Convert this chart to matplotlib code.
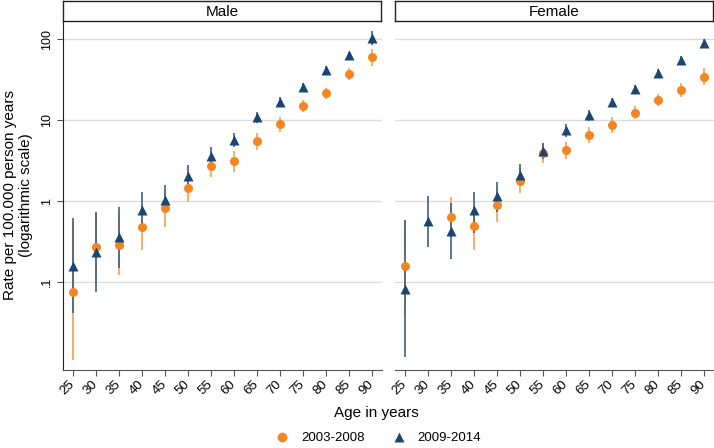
import matplotlib.pyplot as plt
from matplotlib.lines import Line2D

plt.rcParams['font.family'] = ['Liberation Sans', 'DejaVu Sans']

ages = [25, 30, 35, 40, 45, 50, 55, 60, 65, 70, 75, 80, 85, 90]

# Male, 2003-2008
male_a = [0.076, 0.27, 0.286, 0.48, 0.81, 1.43, 2.70, 3.12, 5.5, 8.9, 14.9, 21.3, 37.0, 59.4]
male_a_lo = [0.011, 0.10, 0.122, 0.25, 0.48, 0.98, 2.0, 2.3, 4.3, 7.2, 12.4, 18.0, 31.0, 46.0]
male_a_hi = [0.55, 0.72, 0.70, 0.90, 1.34, 1.99, 3.6, 4.1, 7.0, 11.0, 17.8, 25.0, 44.0, 75.0]
# Male, 2009-2014
male_b = [0.158, 0.236, 0.363, 0.77, 1.03, 2.03, 3.59, 5.66, 10.8, 16.8, 25.8, 41.5, 63.1, 104.0]
male_b_lo = [0.041, 0.076, 0.148, 0.45, 0.71, 1.50, 2.9, 4.6, 9.3, 14.8, 23.0, 37.5, 57.0, 84.0]
male_b_hi = [0.62, 0.73, 0.84, 1.30, 1.58, 2.78, 4.7, 6.9, 12.4, 19.0, 29.0, 46.0, 70.0, 125.0]

# Female, 2003-2008 (no estimate at 30)
fem_ages_a = [25, 35, 40, 45, 50, 55, 60, 65, 70, 75, 80, 85, 90]
fem_a = [0.158, 0.63, 0.49, 0.90, 1.78, 3.88, 4.26, 6.58, 8.6, 12.3, 17.7, 23.4, 34.2]
fem_a_lo = [0.039, 0.36, 0.25, 0.55, 1.24, 2.92, 3.27, 5.25, 7.0, 10.2, 14.9, 19.4, 27.0]
fem_a_hi = [0.58, 1.11, 0.85, 1.48, 2.53, 5.15, 5.41, 8.26, 10.8, 14.9, 20.9, 28.4, 43.8]
# Female, 2009-2014
fem_b = [0.083, 0.57, 0.43, 0.77, 1.15, 2.09, 4.17, 7.53, 11.5, 16.5, 23.9, 38.4, 55.0, 89.9]
fem_b_lo = [0.012, 0.27, 0.19, 0.40, 0.74, 1.58, 3.27, 6.22, 9.8, 14.4, 20.8, 34.2, 48.7, 79.0]
fem_b_hi = [0.58, 1.15, 0.95, 1.30, 1.73, 2.86, 5.15, 8.92, 13.3, 18.6, 27.0, 43.0, 61.5, 101.0]

panels = ["Male", "Female"]
series_labels = ["2003-2008", "2009-2014"]
ytick_vals = [0.1, 1, 10, 100]
ytick_labels = [".1", "1", "10", "100"]

orange = "#F5861F"
navy = "#1A476F"
orange_ci = "#F7A050"
navy_ci = "#40607D"

W, H = 714, 448
fig = plt.figure(figsize=(W / 100, H / 100), dpi=100)

panel_x = [(63, 382), (395, 714)]
top, bottom = 21, 370

data = [
    (ages, male_a, male_a_lo, male_a_hi, ages, male_b, male_b_lo, male_b_hi),
    (fem_ages_a, fem_a, fem_a_lo, fem_a_hi, ages, fem_b, fem_b_lo, fem_b_hi),
]

for i, (name, (x0, x1), d) in enumerate(zip(panels, panel_x, data)):
    ax = fig.add_axes([x0 / W, (H - bottom) / H, (x1 - x0) / W, (bottom - top) / H])
    xa, ya, loa, hia, xb, yb, lob, hib = d

    ax.vlines(xa, loa, hia, color=orange_ci, lw=1.2, zorder=2)
    ax.vlines(xb, lob, hib, color=navy_ci, lw=1.2, zorder=2.1)
    ax.plot(xa, ya, 'o', color=orange, ms=6.5, mec='none', zorder=3)
    ax.plot(xb, yb, '^', color=navy, ms=7, mec='none', zorder=3.1)

    ax.set_yscale('log')
    ax.set_ylim(0.0082, 167)
    ax.set_xlim(22.9, 92.2)
    ax.minorticks_off()
    ax.set_yticks(ytick_vals)
    ax.set_xticks(ages)
    ax.set_xticklabels([str(a) for a in ages], rotation=45, fontsize=9.5,
                       ha='right', va='center', rotation_mode='anchor')
    ax.grid(axis='y', color='#dcdcdc', lw=1)
    ax.set_axisbelow(True)
    for s in ['top', 'right']:
        ax.spines[s].set_visible(False)
    ax.spines['bottom'].set_color('#555555')
    ax.tick_params(axis='x', length=4, color='#555555', pad=5)
    if i == 0:
        ax.set_yticklabels(ytick_labels, rotation=90, va='center', fontsize=9)
        ax.spines['left'].set_color('#222222')
        ax.tick_params(axis='y', length=4, color='#555555', pad=3)
        ax.set_ylabel("Rate per 100.000 person years\n(logarithmic scale)", fontsize=11, labelpad=6)
    else:
        ax.spines['left'].set_visible(False)
        ax.set_yticklabels([])
        ax.tick_params(axis='y', length=0)

    sax = fig.add_axes([x0 / W, (H - top) / H, (x1 - x0 - 1) / W, 20 / H])
    sax.set_xticks([])
    sax.set_yticks([])
    for s in sax.spines.values():
        s.set_color('#222222')
        s.set_linewidth(1)
    sax.text(0.5, 0.45, name, ha='center', va='center', fontsize=11, transform=sax.transAxes)

fig.text(376 / W, 1 - 413 / H, "Age in years", ha='center', va='center', fontsize=11)

handles = [
    Line2D([], [], marker='o', ls='none', color=orange, ms=7, mec='none'),
    Line2D([], [], marker='^', ls='none', color=navy, ms=7, mec='none'),
]
fig.legend(handles, series_labels, loc='center', bbox_to_anchor=(375 / W, 1 - 438 / H),
           ncol=2, frameon=False, fontsize=9.5, handletextpad=0.4, columnspacing=1.6)

fig.savefig("out.png", dpi=100)
